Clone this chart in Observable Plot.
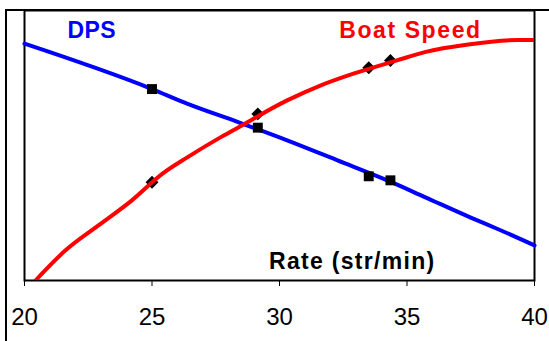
<!DOCTYPE html>
<html>
<head>
<meta charset="utf-8">
<script src="https://cdn.jsdelivr.net/npm/d3@7"></script>
<script src="https://cdn.jsdelivr.net/npm/@observablehq/plot@0.6"></script>
<style>
  html, body { margin: 0; padding: 0; background: #fff; }
  #wrap { position: relative; width: 549px; height: 341px; overflow: hidden; }
  #outer { position: absolute; left: 5px; top: 9px; width: 600px; height: 400px;
           border-left: 2px solid #000; border-top: 2px solid #000; pointer-events: none; }
</style>
</head>
<body>
<div id="wrap"><div id="chart"></div><div id="outer"></div></div>
<script>
// Rate (strokes/min) on x; relative units on hidden y
const xTicks = [20, 25, 30, 35, 40];

const dpsRate = [20, 25, 26.4, 28.4, 30.3, 32.3, 34.3, 35.7, 37.5, 38.6, 40];
const dpsValue = [87.7, 70.9, 65.4, 58.6, 51.9, 44.4, 36.8, 30.9, 23.3, 18.9, 13.0];

const speedRate = [20.43, 21.6, 22.9, 24.2, 25.4, 26.4, 27.7, 28.4, 30.3, 31.6, 32.9, 34.6, 35.7, 37.4, 39.4, 40];
const speedValue = [0, 11.1, 20.4, 29.6, 39.5, 45.7, 53.1, 56.8, 66.7, 72.2, 76.6, 81.5, 84.6, 87.4, 89.1, 89.1];

const measuredRate = [25, 29.15, 33.5, 34.35];
const measuredDps = [70.9, 56.6, 38.6, 37.1];
const measuredSpeed = [36.4, 61.7, 78.8, 81.5];

const dpsLine = dpsRate.map((r, i) => ({rate: r, v: dpsValue[i]}));
const speedLine = speedRate.map((r, i) => ({rate: r, v: speedValue[i]}));
const dpsPts = measuredRate.map((r, i) => ({rate: r, v: measuredDps[i]}));
const speedPts = measuredRate.map((r, i) => ({rate: r, v: measuredSpeed[i]}));

const FONT = "'Liberation Sans', Arial, sans-serif";

const chart = Plot.plot({
  width: 549,
  height: 341,
  marginLeft: 24,
  marginRight: 15,
  marginTop: 10,
  marginBottom: 61,
  style: {fontFamily: FONT, fontSize: "24px", color: "#000", background: "#fff"},
  x: {domain: [20, 40], ticks: xTicks, tickSize: 6, tickPadding: 21, label: null, tickFormat: d => String(d)},
  y: {domain: [0, 100], axis: null},
  marks: [
    Plot.frame({stroke: "#000", strokeWidth: 2}),
    Plot.line(dpsLine, {x: "rate", y: "v", stroke: "#0000ff", strokeWidth: 4, curve: "monotone-x"}),
    Plot.dot(dpsPts, {x: "rate", y: "v", symbol: "square", r: 5.6, fill: "#000", stroke: "none"}),
    Plot.dot(speedPts, {x: "rate", y: "v", symbol: "diamond2", r: 5.8, fill: "#000", stroke: "none"}),
    Plot.line(speedLine, {x: "rate", y: "v", stroke: "#ff0000", strokeWidth: 4, curve: "monotone-x", clip: true}),
    Plot.text(["DPS"], {x: 21.69, y: 90, text: d => d, textAnchor: "start", lineAnchor: "bottom",
      fill: "#0000ff", fontSize: 23, fontWeight: "bold", fontFamily: FONT}),
    Plot.text(["Boat Speed"], {x: 32.34, y: 90, text: d => d, textAnchor: "start", lineAnchor: "bottom",
      fill: "#ff0000", fontSize: 23, fontWeight: "bold", fontFamily: FONT}),
    Plot.text(["Rate (str/min)"], {x: 29.59, y: 4.4, text: d => d, textAnchor: "start", lineAnchor: "bottom",
      fill: "#000", fontSize: 23, fontWeight: "bold", fontFamily: FONT})
  ]
});
document.getElementById("chart").appendChild(chart);

const spacing = {"DPS": "0.3px", "Boat Speed": "1.6px", "Rate (str/min)": "1.3px"};
d3.select(chart).selectAll("text").each(function() {
  const s = spacing[this.textContent];
  if (s) d3.select(this).style("letter-spacing", s);
});
</script>
</body>
</html>
